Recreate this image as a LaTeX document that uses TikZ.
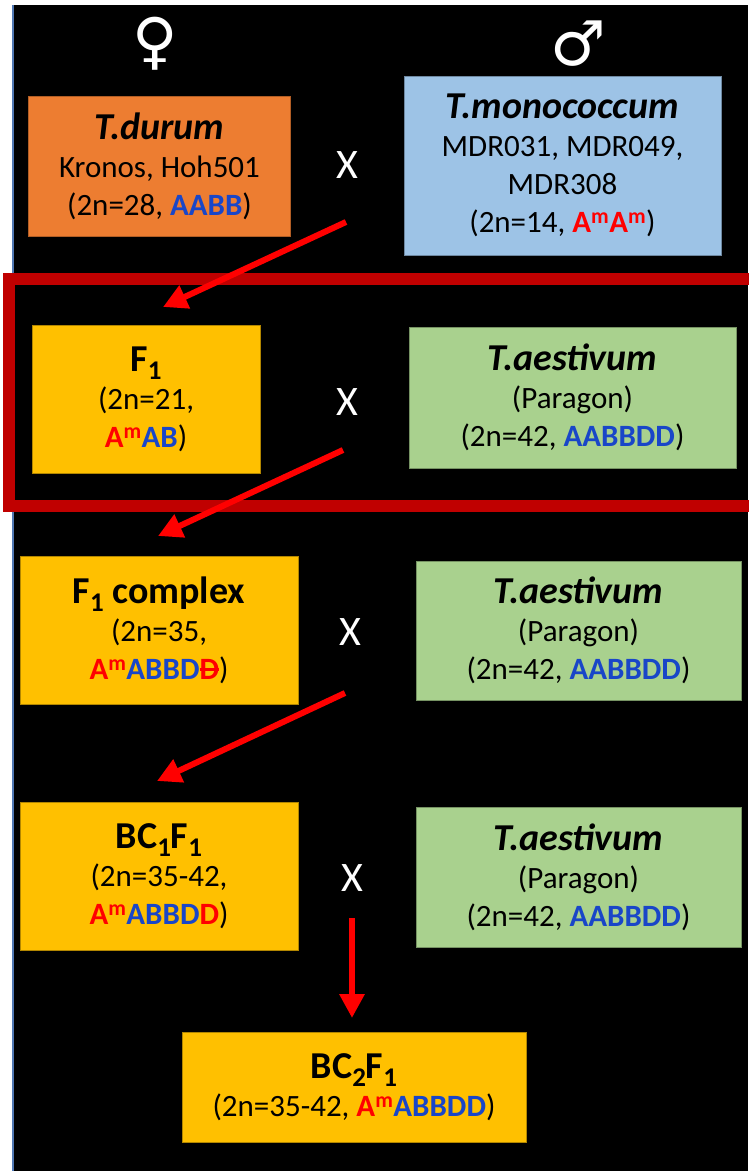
\documentclass[tikz,border=0pt]{standalone}
\usepackage{fontspec}
\setmainfont{Carlito}
\newfontfamily\symfont{DejaVu Sans}
\usetikzlibrary{arrows.meta}
\definecolor{orangebox}{HTML}{ED7D31}
\definecolor{bluebox}{HTML}{9DC3E6}
\definecolor{greenbox}{HTML}{A9D18E}
\definecolor{goldbox}{HTML}{FFC000}
\definecolor{framered}{HTML}{C00000}
\definecolor{arrred}{HTML}{FF0000}
\definecolor{gblue}{RGB}{25,70,200}
\definecolor{gred}{HTML}{FF0000}
\definecolor{edgeblue}{RGB}{80,120,180}
\newcommand\Am{{\color{gred}A\textsuperscript{m}}}
\newcommand\bl[1]{{\color{gblue}#1}}
\newcommand\rd[1]{{\color{gred}#1}}
\newcommand\sbs[1]{\raisebox{-0.22em}{\fontsize{27}{27}\selectfont #1}}
\newcommand\strD{{\color{gred}\setbox0\hbox{D}\rlap{\copy0}\rule[0.28em]{\wd0}{0.09em}}}
\newcommand\ttlfont{\fontsize{38}{44}\selectfont\bfseries}
\tikzset{
  box/.style={rectangle, inner sep=0pt, align=center, line width=0.8pt,
    font=\fontsize{31}{38}\selectfont},
  cross/.style={text=white, font=\fontsize{42}{46}\selectfont},
  sym/.style={text=white, font=\symfont\fontsize{62}{66}\selectfont},
  arr/.style={draw=arrred, line width=6pt, -{Triangle[length=24pt,width=24pt]}},
}
\begin{document}
\begin{tikzpicture}[x=1pt,y=-1pt]
\useasboundingbox (0,0) rectangle (748,1171);
\fill[white] (0,0) rectangle (748,1171);
\fill[black] (14,5) rectangle (748,1171);
\fill[edgeblue] (11.5,5) rectangle (14,1171);
% red frame
\draw[framered, line width=12pt] (9,279) rectangle (780,506);
% symbols
\node[sym] (fem) at (155,44) {♀};
\node[sym] (mal) at (578,44) {♂};
% row 1
\node[box, fill=orangebox, draw=orangebox!75!black, minimum width=262, minimum height=140] (durum) at (159.5,166)
  {{\ttlfont\itshape T.durum}\\ Kronos, Hoh501\\ (2n=28, \textbf{\bl{AABB}})};
\node[box, fill=bluebox, draw=bluebox!70!black, minimum width=317, minimum height=179] (mono) at (562.5,165.5)
  {{\ttlfont\itshape T.monococcum}\\ MDR031, MDR049,\\ MDR308\\ (2n=14, \textbf{\Am\Am})};
\node[cross] (x1) at (347,165) {X};
% row 2
\node[box, fill=goldbox, draw=goldbox!70!black, minimum width=228, minimum height=148] (f1) at (146,399)
  {{\ttlfont F\sbs{1}}\\ (2n=21,\\ \textbf{\Am\bl{AB}})};
\node[box, fill=greenbox, draw=greenbox!70!black, minimum width=327, minimum height=141] (aes1) at (572.5,397.5)
  {{\ttlfont\itshape T.aestivum}\\ (Paragon)\\ (2n=42, \textbf{\bl{AABBDD}})};
\node[cross] (x2) at (347,402) {X};
% row 3
\node[box, fill=goldbox, draw=goldbox!70!black, minimum width=278, minimum height=148] (f1c) at (159,630)
  {{\ttlfont F\sbs{1} complex}\\ (2n=35,\\ \textbf{\Am\bl{ABBD}\strD})};
\node[box, fill=greenbox, draw=greenbox!70!black, minimum width=325, minimum height=139] (aes2) at (578.5,630.5)
  {{\ttlfont\itshape T.aestivum}\\ (Paragon)\\ (2n=42, \textbf{\bl{AABBDD}})};
\node[cross] (x3) at (350,632) {X};
% row 4
\node[box, fill=goldbox, draw=goldbox!70!black, minimum width=278, minimum height=148] (bc1) at (159,876)
  {{\ttlfont BC\sbs{1}F\sbs{1}}\\ (2n=35-42,\\ \textbf{\Am\bl{ABBD}\rd{D}})};
\node[box, fill=greenbox, draw=greenbox!70!black, minimum width=325, minimum height=140] (aes3) at (578.5,877)
  {{\ttlfont\itshape T.aestivum}\\ (Paragon)\\ (2n=42, \textbf{\bl{AABBDD}})};
\node[cross] (x4) at (352,878) {X};
% row 5
\node[box, fill=goldbox, draw=goldbox!70!black, minimum width=344, minimum height=110] (bc2) at (354,1087)
  {{\ttlfont BC\sbs{2}F\sbs{1}}\\ (2n=35-42, \textbf{\Am\bl{ABBDD}})};
% arrows
\coordinate (a1s) at (346,222);
\coordinate (a1e) at (163,307);
\coordinate (a2s) at (343,450);
\coordinate (a2e) at (158,536);
\coordinate (a3s) at (345,693);
\coordinate (a3e) at (157,781);
\coordinate (a4s) at (352,918);
\coordinate (a4e) at (352,1018);
\draw[arr] (a1s) -- (a1e);
\draw[arr] (a2s) -- (a2e);
\draw[arr] (a3s) -- (a3e);
\draw[arr] (a4s) -- (a4e);
\end{tikzpicture}
\end{document}
